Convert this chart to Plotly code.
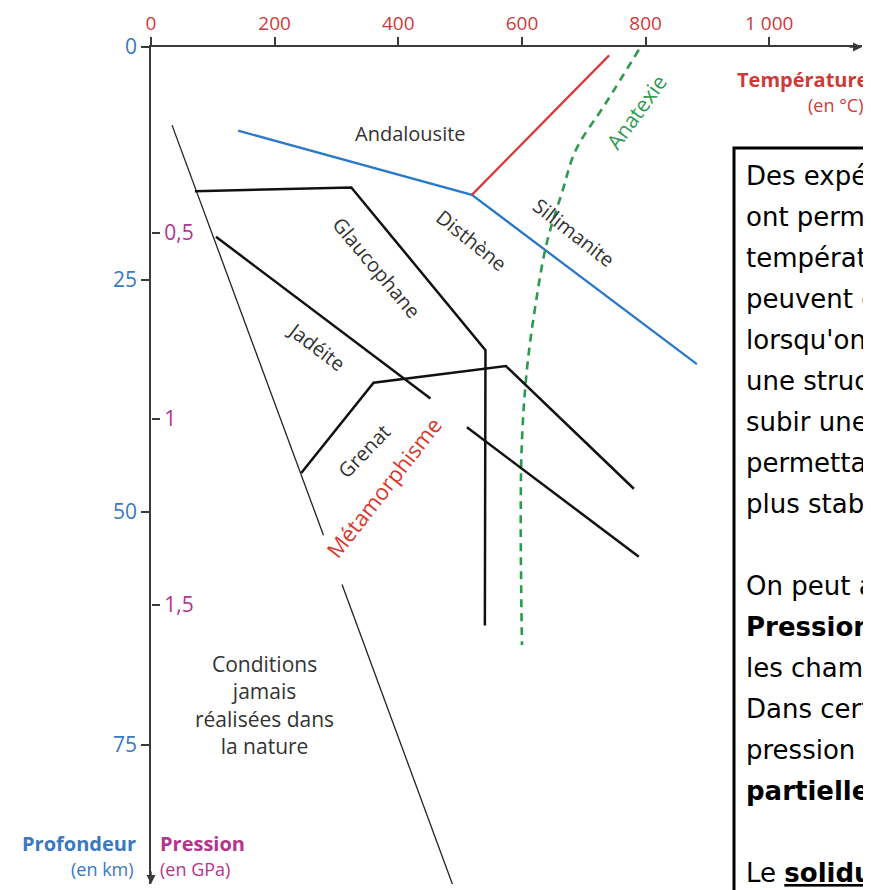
import plotly.graph_objects as go

# ---------------- data (temperature in °C, depth in km) ----------------
TEMP_TICKS = [0, 200, 400, 600, 800, 1000]
TEMP_TICKTEXT = ["0", "200", "400", "600", "800", "1 000"]
DEPTH_TICKS = [0, 25, 50, 75]
PRESSURE_TICKS = [0.5, 1.0, 1.5]
PRESSURE_TICKTEXT = ["0,5", "1", "1,5"]
KM_PER_GPA = 40.0

# Andalousite / Disthène / Sillimanite boundaries (blue)
blue_T = [141, 519, 883]
blue_D = [9.0, 15.9, 34.1]
# Andalousite / Sillimanite (red)
red_T = [519, 741]
red_D = [15.9, 0.9]
# Anatexie (green dashed)
anat_T = [789, 736, 687, 665, 640, 622, 608, 600, 598, 600]
anat_D = [0.3, 6.0, 11.1, 15.6, 21.1, 27.7, 34.7, 42.3, 50.9, 64.3]
# limit "conditions jamais réalisées" (thin line, two pieces)
lim1_T = [34, 279]
lim1_D = [8.4, 52.5]
lim2_T = [309, 488]
lim2_D = [57.8, 90.1]
# Glaucophane field boundary
glau_T = [71, 324, 541, 540]
glau_D = [15.5, 15.1, 32.6, 62.2]
# Jadéite boundary
jade_T = [105, 452]
jade_D = [20.4, 37.8]
# Grenat boundary
gren_T = [243, 360, 574, 781]
gren_D = [45.8, 36.1, 34.3, 47.5]
# lower boundary
low_T = [511, 789]
low_D = [40.9, 54.8]

# labels: text, T, D, angle, color, size
LABELS = [
    ("Andalousite", 420, 9.25, 0, "#333333", 20),
    ("Glaucophane", 365, 23.7, 50, "#333333", 20),
    ("Disthène", 519, 20.8, 39, "#333333", 20),
    ("Sillimanite", 684, 19.9, 38, "#333333", 20),
    ("Anatexie", 785, 7.0, -54, "#2e9a4e", 21),
    ("Jadéite", 268, 32.2, 37, "#333333", 20),
    ("Grenat", 344, 43.5, -46, "#333333", 20),
    ("Métamorphisme", 376, 47.3, -52, "#d8392f", 22),
    ("Conditions<br>jamais<br>réalisées dans<br>la nature", 183, 70.8, 0, "#333333", 21),
]

BOX_LINES = [
    "Des expériences en laboratoire",
    "ont permis de déterminer dans quelles",
    "température et pression les minéraux",
    "peuvent exister. En effet,",
    "lorsqu'on modifie ces conditions,",
    "une structure minérale peut",
    "subir une transformation",
    "permettant d'obtenir un minéral",
    "plus stable.",
    "",
    "On peut ainsi construire un",
    "<b>Pression-Température</b>",
    "les champs de stabilité.",
    "Dans certaines conditions de",
    "pression et de température,",
    "<b>partielle</b> des roches.",
    "",
    "Le <b><u>solidus</u></b> est la courbe",
    "",
]

RED_TXT = "#cc3b3b"
BLUE_TXT = "#3a78c2"
MAG_TXT = "#b5348c"
AXIS = "#3a3a3a"
FONT = "Open Sans"

# ---------------- geometry (viewport pixels; page body has an 8px margin) ----------------
BODY = 8
W, H = 871 - BODY, 890 - BODY
PX0, PX1 = 151, 862      # plot area left/right in viewport pixels
PY0, PY1 = 47, 884       # plot area top/bottom in viewport pixels
PW, PH = PX1 - PX0, PY1 - PY0
ML, MT = PX0 - BODY, PY0 - BODY
MR, MB = W - ML - PW, H - MT - PH


def xp(px):
    return (px - PX0) / PW


def yp(py):
    return 1 - (py - PY0) / PH


fig = go.Figure()


def line(T, D, color, width, dash=None, shape="linear"):
    fig.add_trace(go.Scatter(x=T, y=D, mode="lines",
                             line=dict(color=color, width=width, dash=dash, shape=shape),
                             hoverinfo="skip", showlegend=False))


line(blue_T, blue_D, "#2a78c9", 2.3)
line(red_T, red_D, "#d9383a", 2.2)
line(anat_T, anat_D, "#2c9a4c", 2.6, "8px,6px", "spline")
line(lim1_T, lim1_D, "#222222", 1.3)
line(lim2_T, lim2_D, "#222222", 1.3)
line(glau_T, glau_D, "#111111", 2.5)
line(jade_T, jade_D, "#111111", 2.5)
line(gren_T, gren_D, "#111111", 2.5)
line(low_T, low_D, "#111111", 2.5)
# pressure axis carrier (no points)
fig.add_trace(go.Scatter(x=[], y=[], yaxis="y2", showlegend=False, hoverinfo="skip"))

for text, T, D, ang, col, size in LABELS:
    fig.add_annotation(x=T, y=D, text=text, showarrow=False, textangle=ang,
                       font=dict(family=FONT, size=size, color=col),
                       xanchor="center", yanchor="middle", align="center")

# axis arrows
fig.add_annotation(x=1150, y=0, ax=-14, ay=0, text="", showarrow=True,
                   arrowhead=2, arrowsize=1.2, arrowwidth=1.5, arrowcolor=AXIS)
fig.add_annotation(x=0, y=90, ax=0, ay=-14, text="", showarrow=True,
                   arrowhead=2, arrowsize=1.2, arrowwidth=1.5, arrowcolor=AXIS)
# short overhang of the temperature axis left of the origin
fig.add_shape(type="line", xref="paper", yref="paper", x0=xp(143), x1=0, y0=1, y1=1,
              line=dict(color=AXIS, width=1.5))

# axis titles
fig.add_annotation(xref="paper", yref="paper", x=xp(870), y=yp(79),
                   text="<b>Température</b>", showarrow=False, xanchor="right",
                   yanchor="middle", font=dict(family=FONT, size=20, color=RED_TXT))
fig.add_annotation(xref="paper", yref="paper", x=xp(866), y=yp(105),
                   text="(en °C)", showarrow=False, xanchor="right",
                   yanchor="middle", font=dict(family=FONT, size=18, color=RED_TXT))
fig.add_annotation(xref="paper", yref="paper", x=xp(138), y=yp(843),
                   text="<b>Profondeur</b>", showarrow=False, xanchor="right",
                   yanchor="middle", font=dict(family=FONT, size=20, color=BLUE_TXT))
fig.add_annotation(xref="paper", yref="paper", x=xp(136), y=yp(869),
                   text="(en km)", showarrow=False, xanchor="right",
                   yanchor="middle", font=dict(family=FONT, size=18, color=BLUE_TXT))
fig.add_annotation(xref="paper", yref="paper", x=xp(158), y=yp(843),
                   text="<b>Pression</b>", showarrow=False, xanchor="left",
                   yanchor="middle", font=dict(family=FONT, size=20, color=MAG_TXT))
fig.add_annotation(xref="paper", yref="paper", x=xp(158), y=yp(869),
                   text="(en GPa)", showarrow=False, xanchor="left",
                   yanchor="middle", font=dict(family=FONT, size=18, color=MAG_TXT))

# text box
fig.add_shape(type="rect", xref="paper", yref="paper",
              x0=xp(734), x1=xp(960), y0=yp(148), y1=yp(990),
              line=dict(color="black", width=3), fillcolor="white", layer="above")
for i, t in enumerate(BOX_LINES):
    if not t:
        continue
    fig.add_annotation(xref="paper", yref="paper", x=xp(744), y=yp(176 + i * 41),
                       text=t, showarrow=False, xanchor="left", yanchor="middle",
                       align="left",
                       font=dict(family="DejaVu Sans", size=26, color="black"))

fig.update_layout(
    width=W, height=H,
    margin=dict(l=ML, r=MR, t=MT, b=MB, pad=0, autoexpand=False),
    plot_bgcolor="white", paper_bgcolor="white",
    showlegend=False,
    xaxis=dict(range=[0, 1150], side="top", showline=True, linecolor=AXIS, linewidth=1.5,
               ticks="outside", ticklen=8, tickwidth=1.5, tickcolor=AXIS,
               tickvals=TEMP_TICKS, ticktext=TEMP_TICKTEXT, automargin=False,
               tickfont=dict(family=FONT, size=19, color=RED_TXT),
               showgrid=False, zeroline=False, fixedrange=True),
    yaxis=dict(range=[90, 0], showline=True, linecolor=AXIS, linewidth=1.5,
               ticks="outside", ticklen=8, tickwidth=1.5, tickcolor=AXIS,
               tickvals=DEPTH_TICKS, ticktext=[str(v) for v in DEPTH_TICKS], automargin=False,
               tickfont=dict(family=FONT, size=21, color=BLUE_TXT),
               showgrid=False, zeroline=False, fixedrange=True),
    yaxis2=dict(range=[90, 0], overlaying="y", anchor="free", position=0, side="right",
                showline=False, ticks="outside", ticklen=8, tickwidth=1.5, tickcolor=AXIS,
                tickvals=[p * KM_PER_GPA for p in PRESSURE_TICKS],
                ticktext=PRESSURE_TICKTEXT, automargin=False,
                tickfont=dict(family=FONT, size=21, color=MAG_TXT),
                showgrid=False, zeroline=False, fixedrange=True),
)

fig.write_html("out.html")
